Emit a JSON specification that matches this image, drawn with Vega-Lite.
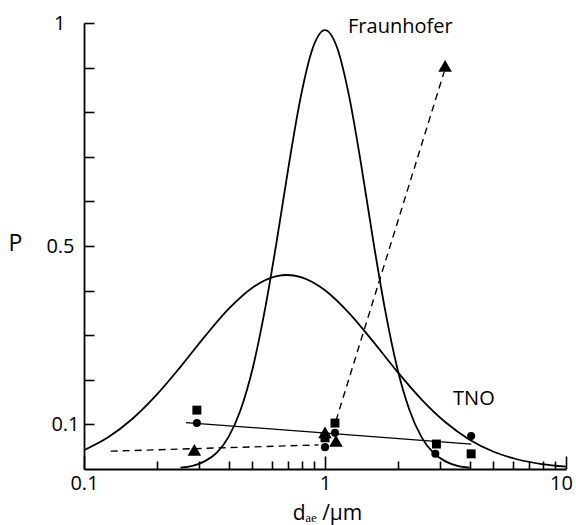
{
  "$schema": "https://vega.github.io/schema/vega-lite/v6.json",
  "width": 482,
  "height": 446,
  "autosize": {"type": "none"},
  "padding": {"left": 84, "top": 23, "right": 10, "bottom": 56},
  "background": "white",
  "config": {
    "view": {"stroke": null},
    "axis": {
      "grid": false,
      "domainColor": "black",
      "domainWidth": 1.8,
      "tickColor": "black",
      "tickWidth": 1.6,
      "labelFont": "Open Sans",
      "labelFontSize": 20,
      "labelColor": "black",
      "titleFont": "Open Sans",
      "titleFontSize": 21,
      "titleFontWeight": "normal",
      "titleColor": "black"
    }
  },
  "encoding": {
    "x": {
      "field": "x",
      "type": "quantitative",
      "scale": {"type": "log", "domain": [0.1, 10], "nice": false},
      "axis": {
        "title": "dₐₑ /µm",
        "titleX": 243,
        "titleY": 44,
        "titleAlign": "center",
        "titleBaseline": "middle",
        "values": [0.1, 0.2, 0.3, 0.4, 0.5, 0.6, 0.7, 0.8, 0.9, 1, 2, 3, 4, 5, 6, 7, 8, 9, 10],
        "labelExpr": "(datum.value < 0.11 || (datum.value > 0.99 && datum.value < 1.01) || datum.value > 9.9) ? format(datum.value, '~g') : ''",
        "tickSize": {"condition": {"test": "datum.value < 0.11 || (datum.value > 0.99 && datum.value < 1.01) || datum.value > 9.9", "value": -13}, "value": -8},
        "labelOffset": {"condition": {"test": "datum.value > 9.9", "value": -5}, "value": 0},
        "labelPadding": 17,
        "labelFlush": false,
        "labelOverlap": false
      }
    },
    "y": {
      "field": "y",
      "type": "quantitative",
      "scale": {"domain": [0, 1], "nice": false, "zero": false},
      "axis": {
        "title": "P",
        "titleFontSize": 23,
        "titleAngle": 0,
        "titleX": -69,
        "titleY": 220,
        "titleAlign": "center",
        "titleBaseline": "middle",
        "values": [0.1, 0.2, 0.3, 0.4, 0.5, 0.6, 0.7, 0.8, 0.9, 1],
        "labelExpr": "(abs(datum.value - 0.1) < 0.001 || abs(datum.value - 0.5) < 0.001 || abs(datum.value - 1) < 0.001) ? format(datum.value, '~g') : ''",
        "tickSize": -10,
        "labelPadding": {"condition": [{"test": "datum.value > 0.99", "value": 29}, {"test": "abs(datum.value - 0.5) < 0.001", "value": 20}], "value": 15},
        "labelOverlap": false,
        "labelBaseline": "middle"
      }
    }
  },
  "layer": [
    {
      "data": {"values": [
        {"curve": "Fraunhofer", "x": 0.2512, "y": 0.003},
        {"curve": "Fraunhofer", "x": 0.2818, "y": 0.007},
        {"curve": "Fraunhofer", "x": 0.3162, "y": 0.017},
        {"curve": "Fraunhofer", "x": 0.3548, "y": 0.036},
        {"curve": "Fraunhofer", "x": 0.3981, "y": 0.072},
        {"curve": "Fraunhofer", "x": 0.4467, "y": 0.133},
        {"curve": "Fraunhofer", "x": 0.5012, "y": 0.226},
        {"curve": "Fraunhofer", "x": 0.5623, "y": 0.355},
        {"curve": "Fraunhofer", "x": 0.6310, "y": 0.512},
        {"curve": "Fraunhofer", "x": 0.7079, "y": 0.682},
        {"curve": "Fraunhofer", "x": 0.7943, "y": 0.836},
        {"curve": "Fraunhofer", "x": 0.8913, "y": 0.945},
        {"curve": "Fraunhofer", "x": 1.0, "y": 0.984},
        {"curve": "Fraunhofer", "x": 1.122, "y": 0.945},
        {"curve": "Fraunhofer", "x": 1.259, "y": 0.836},
        {"curve": "Fraunhofer", "x": 1.413, "y": 0.682},
        {"curve": "Fraunhofer", "x": 1.585, "y": 0.512},
        {"curve": "Fraunhofer", "x": 1.778, "y": 0.355},
        {"curve": "Fraunhofer", "x": 1.995, "y": 0.226},
        {"curve": "Fraunhofer", "x": 2.239, "y": 0.133},
        {"curve": "Fraunhofer", "x": 2.512, "y": 0.072},
        {"curve": "Fraunhofer", "x": 2.818, "y": 0.036},
        {"curve": "Fraunhofer", "x": 3.162, "y": 0.017},
        {"curve": "Fraunhofer", "x": 3.548, "y": 0.007},
        {"curve": "Fraunhofer", "x": 3.981, "y": 0.003},
        {"curve": "TNO", "x": 0.1, "y": 0.0423},
        {"curve": "TNO", "x": 0.1259, "y": 0.0712},
        {"curve": "TNO", "x": 0.1585, "y": 0.1122},
        {"curve": "TNO", "x": 0.1995, "y": 0.1656},
        {"curve": "TNO", "x": 0.2512, "y": 0.2289},
        {"curve": "TNO", "x": 0.3162, "y": 0.2962},
        {"curve": "TNO", "x": 0.3981, "y": 0.3588},
        {"curve": "TNO", "x": 0.5012, "y": 0.4071},
        {"curve": "TNO", "x": 0.6310, "y": 0.4325},
        {"curve": "TNO", "x": 0.695, "y": 0.435},
        {"curve": "TNO", "x": 0.7943, "y": 0.4302},
        {"curve": "TNO", "x": 1.0, "y": 0.4007},
        {"curve": "TNO", "x": 1.259, "y": 0.3495},
        {"curve": "TNO", "x": 1.585, "y": 0.2855},
        {"curve": "TNO", "x": 1.995, "y": 0.2183},
        {"curve": "TNO", "x": 2.512, "y": 0.1563},
        {"curve": "TNO", "x": 3.162, "y": 0.1048},
        {"curve": "TNO", "x": 3.981, "y": 0.0658},
        {"curve": "TNO", "x": 5.012, "y": 0.0387},
        {"curve": "TNO", "x": 6.310, "y": 0.0213},
        {"curve": "TNO", "x": 7.943, "y": 0.0110},
        {"curve": "TNO", "x": 10.0, "y": 0.0053}
      ]},
      "mark": {"type": "line", "color": "black", "strokeWidth": 1.8, "interpolate": "monotone", "clip": true},
      "encoding": {"detail": {"field": "curve"}}
    },
    {
      "data": {"values": [
        {"x": 0.265, "y": 0.104},
        {"x": 4.05, "y": 0.056}
      ]},
      "mark": {"type": "line", "color": "black", "strokeWidth": 1.3},
      "encoding": {}
    },
    {
      "data": {"values": [
        {"seg": "a", "x": 0.129, "y": 0.040},
        {"seg": "a", "x": 0.94, "y": 0.054},
        {"seg": "b", "x": 1.11, "y": 0.108},
        {"seg": "b", "x": 3.12, "y": 0.89}
      ]},
      "mark": {"type": "line", "color": "black", "strokeWidth": 1.4, "strokeDash": [7, 5]},
      "encoding": {"detail": {"field": "seg"}}
    },
    {
      "data": {"values": [
        {"x": 0.294, "y": 0.132, "m": "square"},
        {"x": 0.294, "y": 0.103, "m": "circle"},
        {"x": 0.287, "y": 0.043, "m": "triangle"},
        {"x": 1.0, "y": 0.082, "m": "triangle"},
        {"x": 1.0, "y": 0.070, "m": "square"},
        {"x": 1.0, "y": 0.049, "m": "circle"},
        {"x": 1.10, "y": 0.103, "m": "square"},
        {"x": 1.10, "y": 0.081, "m": "circle"},
        {"x": 1.11, "y": 0.063, "m": "triangle"},
        {"x": 2.9, "y": 0.056, "m": "square"},
        {"x": 2.87, "y": 0.034, "m": "circle"},
        {"x": 4.04, "y": 0.074, "m": "circle"},
        {"x": 4.04, "y": 0.034, "m": "square"},
        {"x": 3.15, "y": 0.904, "m": "triangle"}
      ]},
      "mark": {"type": "point", "filled": true, "color": "black", "opacity": 1},
      "encoding": {
        "shape": {"field": "m", "type": "nominal", "scale": {"domain": ["square", "circle", "triangle"], "range": ["square", "circle", "triangle-up"]}, "legend": null},
        "size": {"field": "m", "type": "nominal", "scale": {"type": "ordinal", "domain": ["square", "circle", "triangle"], "range": [80, 65, 185]}, "legend": null}
      }
    },
    {
      "data": {"values": [
        {"x": 1.246, "y": 0.991, "label": "Fraunhofer"},
        {"x": 3.40, "y": 0.157, "label": "TNO"}
      ]},
      "mark": {"type": "text", "align": "left", "baseline": "middle", "font": "Open Sans", "fontSize": 20, "color": "black"},
      "encoding": {"text": {"field": "label"}}
    }
  ]
}
